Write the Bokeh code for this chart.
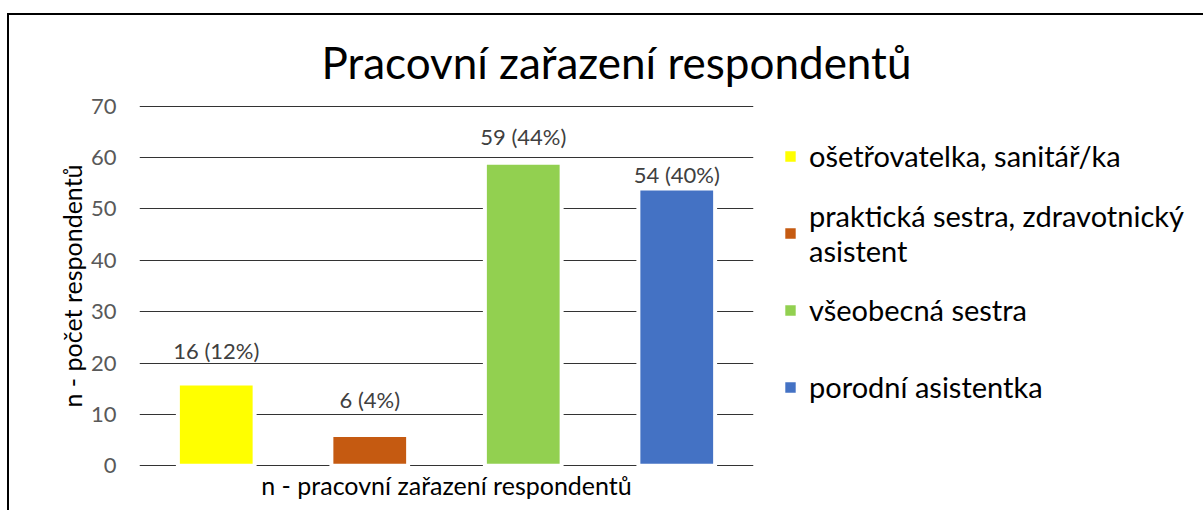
from bokeh.plotting import figure
from bokeh.models import FactorRange, Range1d, Legend, LegendItem, ColumnDataSource
from bokeh.core.properties import value
from bokeh.embed import file_html
from bokeh.resources import INLINE

# ---- data ----
categories = ["ošetřovatelka, sanitář/ka", "praktická sestra, zdravotnický asistent",
              "všeobecná sestra", "porodní asistentka"]
legend_labels = ["ošetřovatelka, sanitář/ka", "praktická sestra, zdravotnický\nasistent",
                 "všeobecná sestra", "porodní asistentka"]
counts = [16, 6, 59, 54]
percents = [12, 4, 44, 40]
y_ticks = [0, 10, 20, 30, 40, 50, 60, 70]

# ---- style ----
colors = ["#FFFF00", "#C55A11", "#92D050", "#4472C4"]
label_gap = [33, 35, 26, 14]   # pixel offsets of data labels above bars
FONT = "Lato"

labels = [f"{c} ({p}%)" for c, p in zip(counts, percents)]
src = ColumnDataSource(dict(cat=categories, top=counts, color=colors, lab=labels,
                            dy=[-g for g in label_gap]))

p = figure(frame_width=614, frame_height=361, output_backend="svg", toolbar_location=None,
           x_range=FactorRange(factors=categories), y_range=Range1d(-0.15, 70.15),
           min_border_left=130, min_border_right=0, min_border_top=90, min_border_bottom=44)
p.styles = {"border-top": "2px solid black", "border-left": "2px solid black",
            "margin-top": "13px", "margin-left": "7px"}
p.outline_line_color = None
p.background_fill_color = "white"
p.border_fill_color = "white"

p.title.text = "Pracovní zařazení respondentů"
p.title.align = "left"
p.title.offset = 182
p.title.standoff = 36
p.title.text_font = FONT
p.title.text_font_size = "44px"
p.title.text_font_style = "normal"
p.title.text_color = "black"

bars = p.vbar(x="cat", top="top", width=0.5, source=src, fill_color="color",
              line_color="white", line_width=4)
p.text(x="cat", y="top", text="lab", source=src, y_offset="dy",
       text_align="center", text_baseline="alphabetic",
       text_font=value(FONT), text_font_size="22px", text_color="#404040")

p.xgrid.grid_line_color = None
p.ygrid.grid_line_color = "#333333"
p.ygrid.grid_line_width = 1
p.yaxis.ticker = y_ticks

ya = p.yaxis[0]
ya.axis_line_color = None
ya.major_tick_line_color = None
ya.minor_tick_line_color = None
ya.major_tick_out = 0
ya.major_label_standoff = 23
ya.major_label_text_font = FONT
ya.major_label_text_font_size = "22px"
ya.major_label_text_color = "#595959"
ya.axis_label = "n - počet respondentů"
ya.axis_label_text_font = FONT
ya.axis_label_text_font_size = "25px"
ya.axis_label_text_font_style = "normal"
ya.axis_label_text_color = "black"
ya.axis_label_standoff = 1

xa = p.xaxis[0]
xa.axis_line_color = None
xa.major_tick_line_color = None
xa.minor_tick_line_color = None
xa.major_tick_out = 0
xa.major_label_standoff = 0
xa.major_label_text_font_size = "1px"
xa.major_label_text_color = None
xa.axis_label = "n - pracovní zařazení respondentů"
xa.axis_label_text_font = FONT
xa.axis_label_text_font_size = "25px"
xa.axis_label_text_font_style = "normal"
xa.axis_label_text_color = "black"
xa.axis_label_standoff = 3

items = [LegendItem(label=legend_labels[i], renderers=[bars], index=i) for i in range(4)]
legend = Legend(items=items, location=(28, 44), orientation="vertical",
                glyph_width=18, glyph_height=18, label_standoff=10,
                label_height=71, spacing=6, padding=0, margin=0,
                border_line_color=None, background_fill_alpha=0,
                label_text_font=FONT, label_text_font_size="29px",
                label_text_color="black")
p.add_layout(legend, "right")

open("out.html", "w").write(file_html(p, INLINE))
